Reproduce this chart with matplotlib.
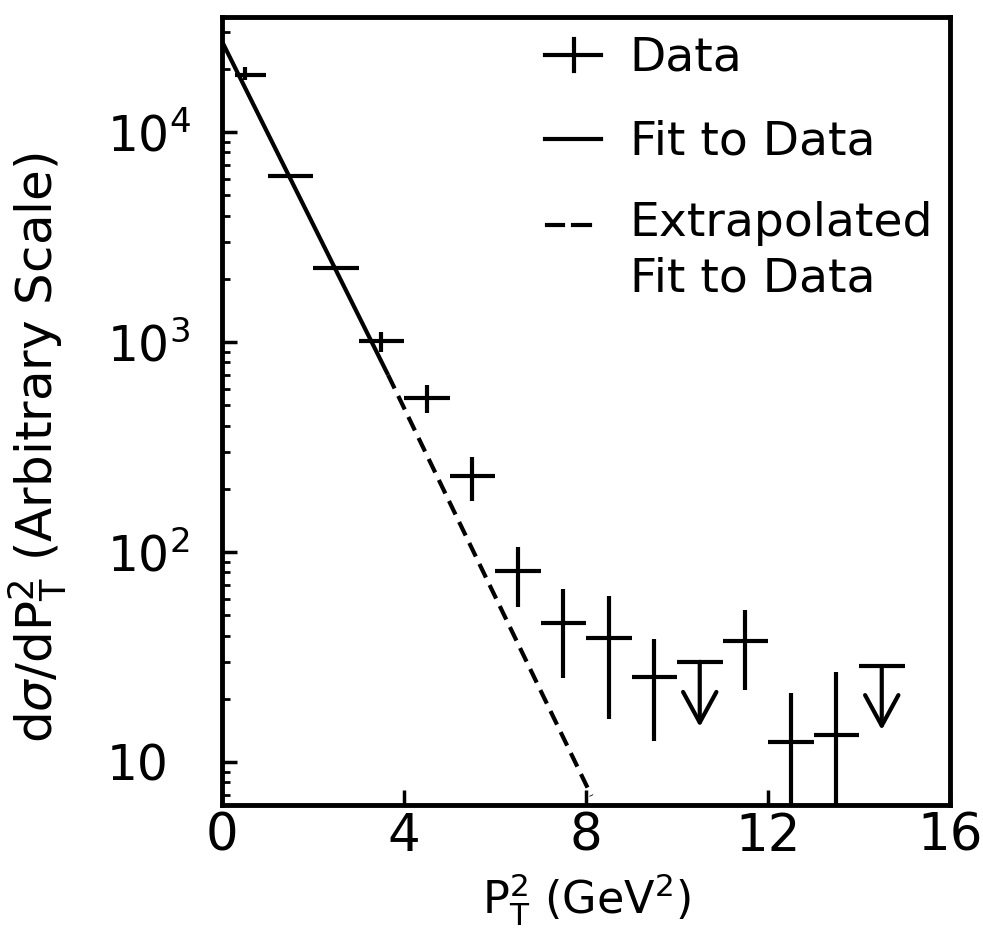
import matplotlib
matplotlib.use("Agg")
import matplotlib.pyplot as plt
from matplotlib.lines import Line2D
import numpy as np

# ---------------- data ----------------
pt2_center = [0.5, 1.5, 2.5, 3.5, 4.5, 5.5, 6.5, 7.5, 8.5, 9.5, 11.5, 12.5, 13.5]
pt2_left   = [0.28, 1.0, 2.0, 3.0, 4.0, 5.0, 6.0, 7.0, 8.0, 9.0, 11.0, 12.0, 13.0]
pt2_right  = [0.97, 2.0, 3.0, 4.0, 5.0, 6.0, 7.0, 8.0, 9.0, 10.0, 12.0, 13.0, 14.0]
xsec       = [18700, 6170, 2250, 1010, 541, 230, 81, 46, 39, 25.4, 37.7, 12.4, 13.5]
xsec_low   = [17700, 6170, 2250, 896, 459, 175, 55, 25, 16, 12.6, 22, 1.0, 1.0]
xsec_high  = [20400, 6170, 2250, 1116, 623, 283, 106, 67, 62, 38.5, 53, 21.3, 26.8]

ul_center = [10.5, 14.5]
ul_left   = [10.0, 14.0]
ul_right  = [11.0, 15.0]
ul_value  = [30.0, 28.6]
ul_tip    = [14.7, 14.2]

fit_solid_x = [0.0, 3.65]
fit_solid_y = [27000, 697]
fit_dash_x  = [3.65, 8.12]
fit_dash_y  = [697, 6.9]

yticks = [10, 100, 1000, 10000]
ytick_labels = ['10', '10$^2$', '10$^3$', '10$^4$']
xticks = [0, 4, 8, 12, 16]
xtick_labels = ['0', '4', '8', '12', '16']

legend_labels = ['Data', 'Fit to Data', 'Extrapolated\nFit to Data']

# ---------------- figure ----------------
W, H = 983, 932
fig = plt.figure(figsize=(W / 100, H / 100), dpi=100)
ax = fig.add_axes([222 / W, 1 - 805 / H, (950 - 222) / W, (805 - 17) / H])

ax.set_yscale('log')
ax.set_xlim(0, 16)
ax.set_ylim(6.24, 35300)

LW = 3.0
xc = np.array(pt2_center)
yv = np.array(xsec)
xerr = [xc - np.array(pt2_left), np.array(pt2_right) - xc]
yerr = [yv - np.array(xsec_low), np.array(xsec_high) - yv]
ax.errorbar(xc, yv, xerr=xerr, yerr=yerr, fmt='none', ecolor='black',
            elinewidth=LW, capsize=0, zorder=3)

# upper limits
ax.hlines(ul_value, ul_left, ul_right, colors='black', linewidth=LW, zorder=3)
for x, v, t in zip(ul_center, ul_value, ul_tip):
    ax.annotate('', xy=(x, t), xytext=(x, v),
                arrowprops=dict(arrowstyle='->,head_length=0.55,head_width=0.3',
                                color='black', lw=LW, mutation_scale=40,
                                shrinkA=0, shrinkB=0))

# fit lines
ax.plot(fit_solid_x, fit_solid_y, color='black', linewidth=LW, zorder=2,
        solid_capstyle='butt')
ax.plot(fit_dash_x, fit_dash_y, color='black', linewidth=LW, zorder=2,
        linestyle=(0, (3.6, 2.0)), dash_capstyle='butt')

# spines and ticks
for s in ax.spines.values():
    s.set_linewidth(3.5)

ax.set_yticks(yticks)
ax.set_yticklabels(ytick_labels)
ax.set_xticks(xticks)
ax.set_xticklabels(xtick_labels)
ax.tick_params(axis='y', which='major', direction='in', length=11, width=2.5,
               pad=83, labelsize=35)
ax.tick_params(axis='y', which='minor', direction='in', length=6, width=2.0)
ax.tick_params(axis='x', which='major', direction='in', length=11, width=2.5,
               pad=5, labelsize=37)
for lab in ax.get_yticklabels():
    lab.set_horizontalalignment('left')
    lab.set_family('DejaVu Sans')

ax.set_xlabel(r'P$_\mathrm{T}^2$ (GeV$^2$)', fontsize=32,
              family='DejaVu Sans', labelpad=7)
ax.set_ylabel(r'd$\sigma$/dP$_\mathrm{T}^2$ (Arbitrary Scale)', fontsize=36,
              family='DejaVu Sans')
ax.yaxis.set_label_coords(-0.21, 0.453)

# legend (drawn manually, in axes fraction)
tr = ax.transAxes
ax.add_line(Line2D([0.443, 0.521], [0.952, 0.952], transform=tr, color='black', lw=LW))
ax.add_line(Line2D([0.483, 0.483], [0.932, 0.972], transform=tr, color='black', lw=LW))
ax.add_line(Line2D([0.443, 0.521], [0.845, 0.845], transform=tr, color='black', lw=LW))
ax.add_line(Line2D([0.446, 0.468], [0.736, 0.736], transform=tr, color='black', lw=LW))
ax.add_line(Line2D([0.482, 0.506], [0.736, 0.736], transform=tr, color='black', lw=LW))
tkw = dict(transform=tr, fontsize=34, family='DejaVu Sans', va='baseline', ha='left')
ax.text(0.560, 0.932, legend_labels[0], **tkw)
ax.text(0.560, 0.825, legend_labels[1], **tkw)
l1, l2 = legend_labels[2].split('\n')
ax.text(0.560, 0.722, l1, **tkw)
ax.text(0.560, 0.652, l2, **tkw)

fig.savefig('out.png', dpi=100)
